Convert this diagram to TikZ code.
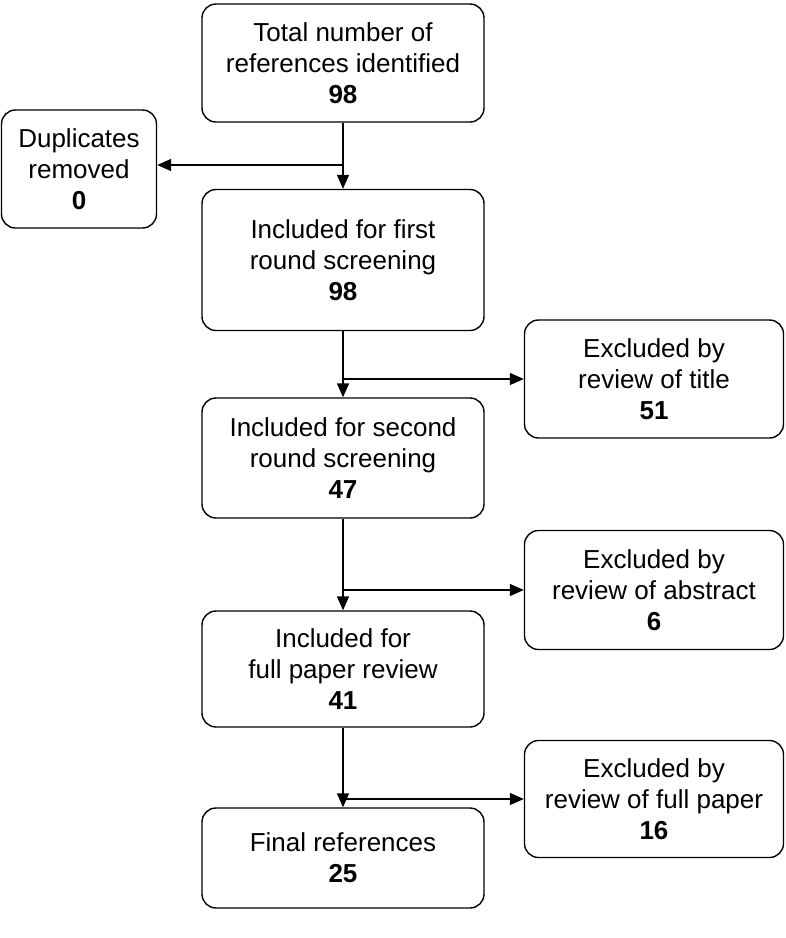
\documentclass[tikz,border=0pt]{standalone}
\usepackage{fontspec}
\setmainfont{Liberation Sans}
\usetikzlibrary{arrows.meta,positioning}
\tikzset{
  box/.style={draw, rounded corners=14pt, line width=1.4pt, align=center, inner sep=0pt,
    font=\fontsize{26}{31}\selectfont},
  flow/.style={line width=1.4pt, -{Triangle[length=14pt,width=12pt]}}
}
\begin{document}
\begin{tikzpicture}[x=1pt,y=-1pt]
            \useasboundingbox (0,0) rectangle (786,938);
            % main column
            \node[box, minimum width=282pt, minimum height=118pt] (tot) at (343,63) {Total number of\\references identified\\\textbf{98}};
            \node[box, minimum width=282pt, minimum height=141pt] (fst) at (343,260) {Included for first\\round screening\\\textbf{98}};
            \node[box, minimum width=282pt, minimum height=120pt] (snd) at (343,458) {Included for second\\round screening\\\textbf{47}};
            \node[box, minimum width=282pt, minimum height=116pt] (full) at (343,669) {Included for\\full paper review\\\textbf{41}};
            \node[box, minimum width=282pt, minimum height=100pt] (fin) at (343,858) {Final references\\\textbf{25}};

            % side boxes
            \node[box, minimum width=155pt, minimum height=118pt] (dup) at (79,169) {Duplicates\\removed\\\textbf{0}};
            \node[box, minimum width=259pt, minimum height=118pt] (extit) at (654,379) {Excluded by\\review of title\\\textbf{51}};
            \node[box, minimum width=259pt, minimum height=119pt] (exabs) at (654,590) {Excluded by\\review of abstract\\\textbf{6}};
            \node[box, minimum width=259pt, minimum height=117pt] (expap) at (654,799) {Excluded by\\review of full paper\\\textbf{16}};

            % junctions
            \coordinate (j1) at (343,165);
            \coordinate (j2) at (343,379);
            \coordinate (j3) at (343,590);
            \coordinate (j4) at (343,799);

            \draw[flow] (tot) -- (fst);
            \draw[flow] (fst) -- (snd);
            \draw[flow] (snd) -- (full);
            \draw[flow] (full) -- (fin);
            \draw[flow] (j1) -- (j1 -| dup.east);
            \draw[flow] (j2) -- (extit.west);
            \draw[flow] (j3) -- (exabs.west);
            \draw[flow] (j4) -- (expap.west);
\end{tikzpicture}
\end{document}
